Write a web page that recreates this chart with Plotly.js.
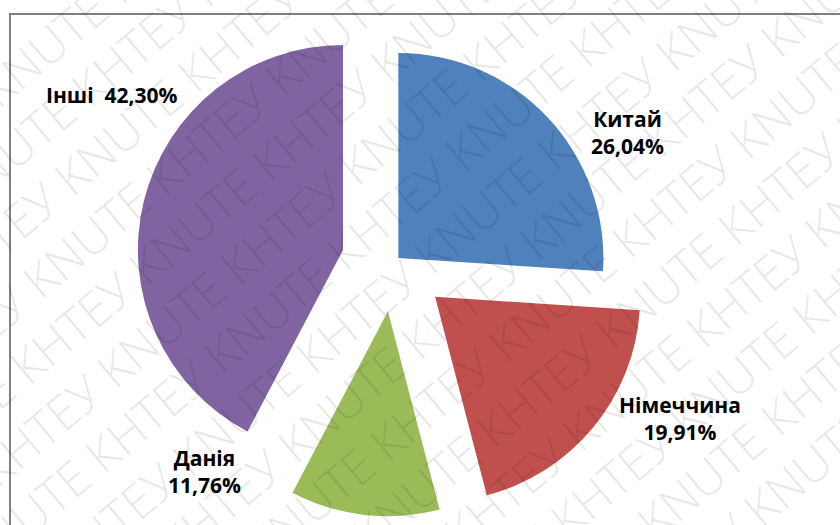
<!DOCTYPE html>
<html>
<head>
<meta charset="utf-8">
<script src="https://cdn.plot.ly/plotly-3.0.1.min.js"></script>
<style>html,body{margin:0;padding:0;background:#fff;}#chart{width:840px;height:525px;}</style>
</head>
<body>
<div id="chart"></div>
<script>
// ---- data ----
var countries = ['Китай', 'Німеччина', 'Данія', 'Інші'];
var shares = [26.04, 19.91, 11.76, 42.30];

// ---- styling (kept apart from data) ----
var colors = ['#4F81BD', '#C0504D', '#9BBB59', '#8064A2'];
var pulls = [0.032, 0.263, 0.239, 0.254];
var labelSeparators = ['<br>', '<br>', '<br>', '\u00a0\u00a0'];
var labelPosPx = [[627, 132], [680, 418], [204, 471], [112, 95]];

var W = 840, H = 525;

function fmt(v) { return v.toFixed(2).replace('.', ',') + '%'; }

var annotations = [];

// watermark
var ang = 40 * Math.PI / 180;
var dirX = Math.cos(ang), dirY = -Math.sin(ang);
var perpX = Math.sin(ang), perpY = Math.cos(ang);
var wmText = '';
for (var r = 0; r < 4; r++) wmText += 'KNUTE КНТЕУ ';
for (var k = -7; k <= 7; k++) {
  var shift = (k % 2 === 0) ? 0 : 90;
  var cx = 420 + k * 58 * perpX + shift * dirX;
  var cy = 262 + k * 58 * perpY + shift * dirY;
  annotations.push({
    xref: 'paper', yref: 'paper',
    x: cx / W, y: 1 - cy / H,
    xanchor: 'center', yanchor: 'middle',
    text: wmText, showarrow: false, textangle: -40,
    font: {family: 'Open Sans, DejaVu Sans, sans-serif', size: 48, color: 'rgba(0,0,0,0.09)', weight: 300}
  });
}

// slice labels
for (var i = 0; i < countries.length; i++) {
  annotations.push({
    xref: 'paper', yref: 'paper',
    x: labelPosPx[i][0] / W, y: 1 - labelPosPx[i][1] / H,
    xanchor: 'center', yanchor: 'middle', align: 'center',
    text: countries[i] + labelSeparators[i] + fmt(shares[i]),
    showarrow: false,
    font: {family: 'Open Sans, Noto Sans, sans-serif', size: 21, color: '#000', weight: 'bold'}
  });
}

var trace = {
  type: 'pie',
  labels: countries,
  values: shares,
  sort: false,
  direction: 'clockwise',
  rotation: 0,
  pull: pulls,
  marker: {colors: colors, line: {width: 0}},
  textinfo: 'none',
  hoverinfo: 'label+percent',
  domain: {x: [0.1, 0.837], y: [0.0067, 0.9933]}
};

var layout = {
  width: W, height: H,
  margin: {l: 0, r: 0, t: 0, b: 0},
  showlegend: false,
  paper_bgcolor: '#ffffff',
  separators: ',.',
  annotations: annotations,
  shapes: [{
    type: 'rect', xref: 'paper', yref: 'paper',
    x0: 10 / W, x1: 1.05, y0: -0.05, y1: 1 - 14 / H,
    line: {color: '#808080', width: 2}, fillcolor: 'rgba(0,0,0,0)', layer: 'below'
  }]
};

Plotly.newPlot('chart', [trace], layout, {displayModeBar: false, staticPlot: true});
</script>
</body>
</html>
